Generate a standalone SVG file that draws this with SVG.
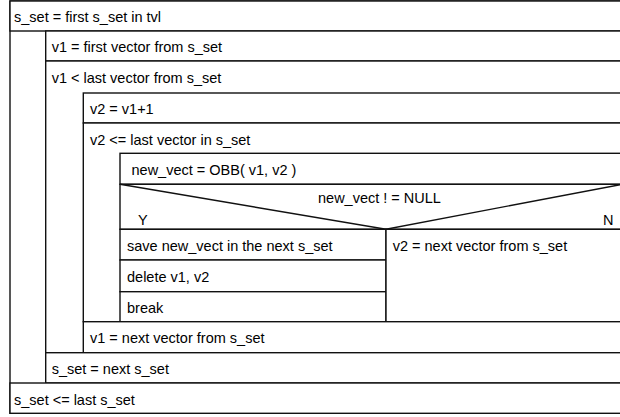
<svg xmlns="http://www.w3.org/2000/svg" width="620" height="417" viewBox="0 0 620 417">
<style>
.b{fill:#fff;stroke:#111;stroke-width:1.4}
.l{fill:none;stroke:#111;stroke-width:1.4}
text{font-family:"Liberation Sans",Arial,sans-serif;font-size:14.5px;fill:#000}
</style>
<rect width="620" height="417" fill="#fff"/>
<g id="frame"><rect class="b" x="10" y="1" width="620" height="412.3"/></g>
<g id="n_sset_first"><rect class="b" x="10" y="1" width="620" height="30"/><text x="14" y="22">s_set = first s_set in tvl</text></g>
<g id="n_v1_first"><rect class="b" x="45.7" y="31" width="590" height="30"/><text x="51.7" y="52">v1 = first vector from s_set</text></g>
<g id="n_loop_v1"><rect class="b" x="45.7" y="61" width="590" height="291.7"/><text x="51.7" y="83">v1 &lt; last vector from s_set</text></g>
<g id="n_v2_init"><rect class="b" x="83.3" y="93" width="550" height="30"/><text x="90" y="114">v2 = v1+1</text></g>
<g id="n_loop_v2"><rect class="b" x="83.3" y="123" width="550" height="198.7"/><text x="90" y="145">v2 &lt;= last vector in s_set</text></g>
<g id="n_obb"><rect class="b" x="120" y="153.3" width="510" height="31"/><text x="131.5" y="175">new_vect = OBB( v1, v2 )</text></g>
<g id="n_if"><rect class="b" x="120" y="184.3" width="510" height="45"/><path class="l" d="M120 184.3L386 229.3L622 184.3"/><text x="318" y="203">new_vect ! = NULL</text><text x="138" y="225">Y</text><text x="603" y="225">N</text></g>
<g id="n_save"><rect class="b" x="120" y="229.3" width="266" height="30.7"/><text x="127" y="251">save new_vect in the next s_set</text></g>
<g id="n_delete"><rect class="b" x="120" y="260" width="266" height="31.7"/><text x="127" y="282">delete v1, v2</text></g>
<g id="n_break"><rect class="b" x="120" y="291.7" width="266" height="30"/><text x="127" y="313">break</text></g>
<g id="n_v2_next"><rect class="b" x="386" y="229.3" width="250" height="92.4"/><text x="392.7" y="251">v2 = next vector from s_set</text></g>
<g id="n_v1_next"><rect class="b" x="83.3" y="321.7" width="550" height="31"/><text x="90" y="343">v1 = next vector from s_set</text></g>
<g id="n_sset_next"><rect class="b" x="45.7" y="352.7" width="590" height="30.3"/><text x="51.7" y="374">s_set = next s_set</text></g>
<g id="n_sset_cond"><rect class="b" x="10" y="383" width="620" height="30.3"/><text x="14" y="405">s_set &lt;= last s_set</text></g>
<g id="connectors"></g>
</svg>
